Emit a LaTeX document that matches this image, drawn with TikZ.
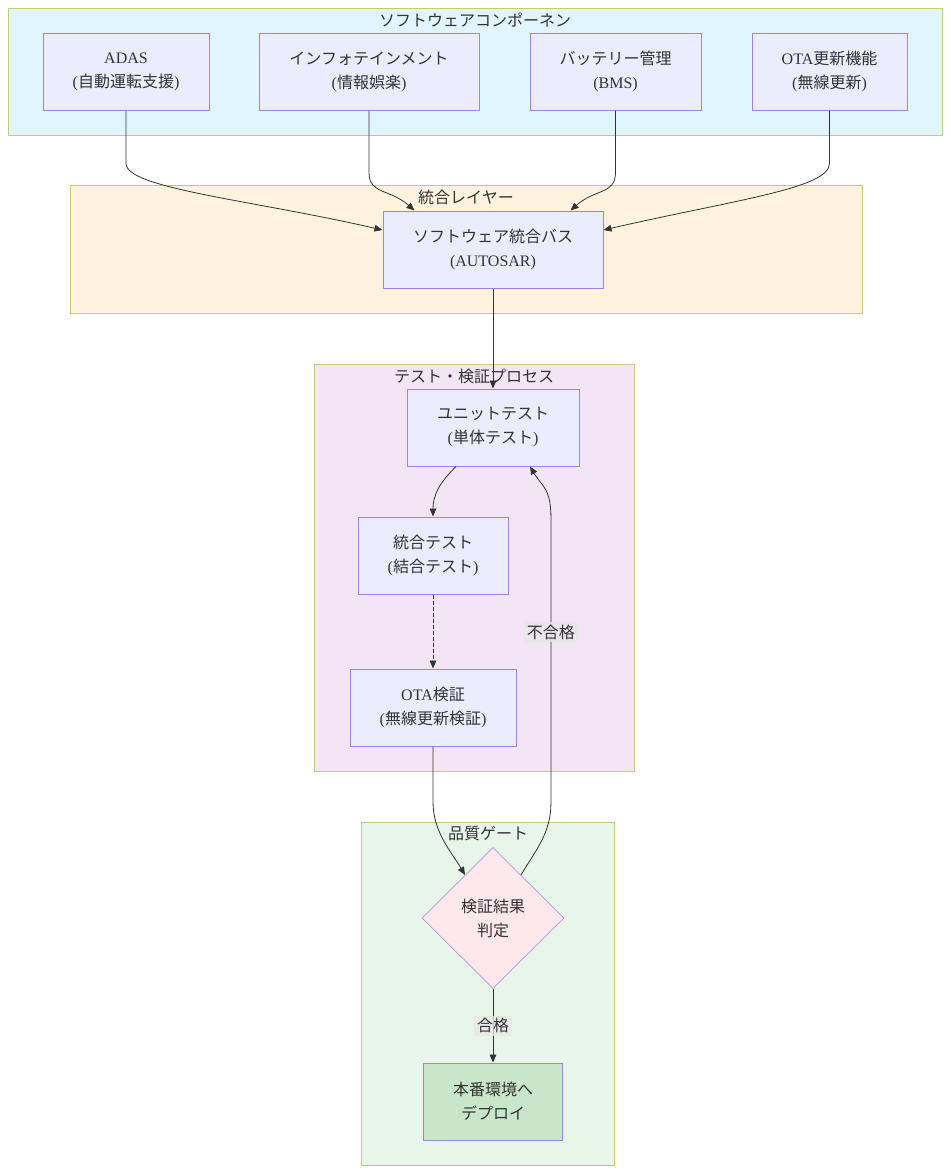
\documentclass[tikz,border=0pt]{standalone}
\usepackage{fontspec}
\setmainfont{Liberation Serif}
\newfontfamily\jp{Noto Sans CJK JP}
\usetikzlibrary{shapes.geometric,arrows.meta,calc}
\definecolor{compCyan}{RGB}{225,245,254}
\definecolor{layerSand}{RGB}{255,243,224}
\definecolor{testLilac}{RGB}{243,229,245}
\definecolor{gateMint}{RGB}{232,245,233}
\definecolor{groupLine}{RGB}{200,200,120}
\definecolor{boxFill}{RGB}{236,236,255}
\definecolor{boxLine}{RGB}{160,130,225}
\definecolor{judgePink}{RGB}{255,232,236}
\definecolor{deployGreen}{RGB}{200,230,201}
\definecolor{inkGrey}{RGB}{51,51,51}
\definecolor{tagGrey}{RGB}{232,232,232}

\begin{document}
\begin{tikzpicture}[x=0.75pt,y=-0.75pt,
    grouprect/.style={draw=groupLine, line width=0.75pt},
    grouptitle/.style={text=inkGrey, font=\jp\fontsize{12}{18}\selectfont, inner sep=0pt},
    compbox/.style={draw=boxLine, fill=boxFill, line width=0.75pt, minimum height=57.75pt,
      inner sep=0pt, align=center, text=inkGrey, font=\fontsize{12}{18}\selectfont},
    arrowline/.style={draw=inkGrey, line width=0.6pt, -{Triangle[length=6pt,width=5pt]}},
    edgetag/.style={fill=tagGrey, fill opacity=0.8, text opacity=1, text=inkGrey,
      font=\jp\fontsize{12}{14}\selectfont, inner sep=2pt}]
  \useasboundingbox (0,0) rectangle (950,1174);

  \draw[grouprect, fill=compCyan] (8,8) rectangle (942,135);
  \node[grouptitle] (compTitle) at (475,20) {ソフトウェアコンポーネン};
  \draw[grouprect, fill=layerSand] (70,185) rectangle (862,313);
  \node[grouptitle] (layerTitle) at (466,197) {統合レイヤー};
  \draw[grouprect, fill=testLilac] (314,364) rectangle (634,771);
  \node[grouptitle] (testTitle) at (474,376) {テスト・検証プロセス};
  \draw[grouprect, fill=gateMint] (361,822) rectangle (614,1165);
  \node[grouptitle] (gateTitle) at (488,833) {品質ゲート};

  \node[compbox, minimum width=124.5pt] (adas) at (126,71.5) {ADAS\\({\jp 自動運転支援})};
  \node[compbox, minimum width=165pt] (info) at (369,71.5) {{\jp インフォテインメント}\\({\jp 情報娯楽})};
  \node[compbox, minimum width=128.25pt] (bms) at (615.5,71.5) {{\jp バッテリー管理}\\(BMS)};
  \node[compbox, minimum width=116.25pt] (otaf) at (829.5,71.5) {OTA{\jp 更新機能}\\({\jp 無線更新})};

  \node[compbox, minimum width=165pt] (bus) at (493,249.5) {{\jp ソフトウェア統合バス}\\(AUTOSAR)};

  \node[compbox, minimum width=129pt] (unit) at (493,427.5) {{\jp ユニットテスト}\\({\jp 単体テスト})};
  \node[compbox, minimum width=112.5pt] (integ) at (433,555.5) {{\jp 統合テスト}\\({\jp 結合テスト})};
  \node[compbox, minimum width=124.5pt] (otav) at (433,707.5) {OTA{\jp 検証}\\({\jp 無線更新検証})};

  \node[diamond, aspect=1, draw=boxLine, line width=0.4pt, fill=judgePink, minimum width=106.5pt,
    minimum height=105.75pt, inner sep=0pt, align=center, text=inkGrey,
    font=\jp\fontsize{12}{18}\selectfont] (judge) at (493,918) {検証結果\\判定};
  \node[compbox, fill=deployGreen, minimum width=104.25pt, font=\jp\fontsize{12}{18}\selectfont]
    (deploy) at (493,1101.5) {本番環境へ\\デプロイ};

  \draw[arrowline] (adas.south) -- ++(0,53) .. controls +(0,25) and +(-130,-30) .. (bus.170);
  \draw[arrowline] (info.south) -- ++(0,62) .. controls +(0,22) and +(-25,-22) .. ($(bus.north west)+(32,0)$);
  \draw[arrowline] (bms.south) -- ++(0,62) .. controls +(0,22) and +(25,-22) .. ($(bus.north east)+(-33,0)$);
  \draw[arrowline] (otaf.south) -- ++(0,53) .. controls +(0,25) and +(130,-30) .. (bus.10);

  \draw[arrowline] (bus.south) -- (unit.north);
  \draw[arrowline] ($(unit.south)+(-37,0)$) .. controls +(-12,12) and +(0,-25) .. (integ.north);
  \draw[arrowline, dash pattern=on 3pt off 1.5pt] (integ.south) -- (otav.north);
  \draw[arrowline] (otav.south) -- ++(0,55) .. controls +(0,30) and +(-15,-25) .. (judge.123);
  \draw[arrowline] (judge.57) .. controls +(15,-25) and +(0,30) .. ++(30,-72)
    -- node[edgetag, pos=0.6] {不合格} ++(0,-285)
    .. controls +(0,-30) and +(12,20) .. ($(unit.south)+(37,0)$);
  \draw[arrowline] (judge.south) -- node[edgetag] {合格} (deploy.north);
\end{tikzpicture}
\end{document}
